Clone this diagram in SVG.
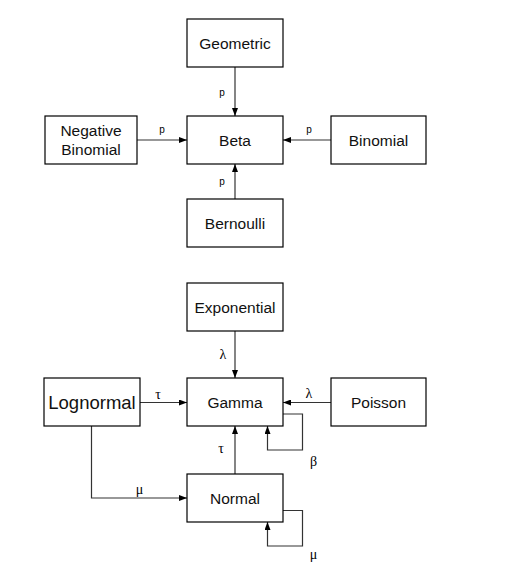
<svg xmlns="http://www.w3.org/2000/svg" width="508" height="575" viewBox="0 0 508 575">
<defs>
<marker id="ah" viewBox="0 0 8 6" refX="8" refY="3" markerWidth="8" markerHeight="6" markerUnits="userSpaceOnUse" orient="auto">
<path d="M0,0 L8,3 L0,6 Z" fill="#000"/>
</marker>
</defs>
<style>
.box{fill:#fff;stroke:#000;stroke-width:1.2}
.n{font-family:"Liberation Sans",Arial,sans-serif;font-size:15.5px;fill:#111;text-anchor:middle}
.big{font-size:18.5px}
.p{font-family:"Liberation Sans",Arial,sans-serif;font-size:10px;fill:#000;text-anchor:middle}
.g{font-family:"Liberation Serif","Times New Roman",serif;font-size:14px;fill:#000;text-anchor:middle}
#edges path{fill:none;stroke:#333;stroke-width:1.2;marker-end:url(#ah)}
</style>
<g id="edges">
<path d="M235,67 V116"/>
<path d="M137,140 H187"/>
<path d="M331,140 H283"/>
<path d="M235,199 V164"/>
<path d="M235,331 V378"/>
<path d="M140,402.5 H187"/>
<path d="M331,402.5 H283"/>
<path d="M283,414 H302.5 V450 H267.5 V426"/>
<path d="M235,474 V426"/>
<path d="M91.5,426 V498 H187"/>
<path d="M283,510.5 H302.5 V546 H267.5 V522"/>
<text class="p" x="222" y="96">p</text>
<text class="p" x="162" y="133">p</text>
<text class="p" x="309" y="133">p</text>
<text class="p" x="222" y="185">p</text>
<text class="g" x="223" y="359">λ</text>
<text class="g" x="158" y="399">τ</text>
<text class="g" x="309" y="398">λ</text>
<text class="g" x="313.5" y="466">β</text>
<text class="g" x="221" y="453">τ</text>
<text class="g" x="139.5" y="494">μ</text>
<text class="g" x="313.5" y="559">μ</text>
</g>
<g id="geometric"><rect class="box" x="187" y="19" width="96" height="48"/><text class="n" x="235" y="48.5">Geometric</text></g>
<g id="beta"><rect class="box" x="187" y="116" width="96" height="48"/><text class="n" x="235" y="145.5">Beta</text></g>
<g id="negbinomial"><rect class="box" x="45" y="116" width="92" height="48"/><text class="n" x="91" y="136">Negative</text><text class="n" x="91" y="155">Binomial</text></g>
<g id="binomial"><rect class="box" x="331" y="116" width="95" height="48"/><text class="n" x="378.5" y="145.5">Binomial</text></g>
<g id="bernoulli"><rect class="box" x="187" y="199" width="96" height="48"/><text class="n" x="235" y="228.5">Bernoulli</text></g>
<g id="exponential"><rect class="box" x="187" y="283" width="96" height="48"/><text class="n" x="235" y="312.5">Exponential</text></g>
<g id="gamma"><rect class="box" x="187" y="378" width="96" height="48"/><text class="n" x="235" y="408">Gamma</text></g>
<g id="lognormal"><rect class="box" x="44" y="378" width="96" height="48"/><text class="n big" x="92" y="409">Lognormal</text></g>
<g id="poisson"><rect class="box" x="331" y="378" width="95" height="48"/><text class="n" x="378.5" y="408">Poisson</text></g>
<g id="normal"><rect class="box" x="187" y="474" width="96" height="48"/><text class="n" x="235" y="503.5">Normal</text></g>
</svg>
